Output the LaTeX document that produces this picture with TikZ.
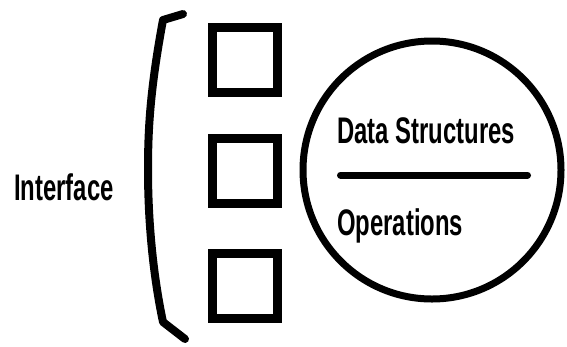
\documentclass[tikz,border=0pt]{standalone}
\usepackage{fontspec}
\setmainfont{Liberation Sans}
\usepackage{tikz}
\usetikzlibrary{positioning}
\newcommand{\squeeze}[1]{\scalebox{0.645}[1]{#1}}

\begin{document}
\begin{tikzpicture}[x=1pt, y=-1pt,
    slot/.style={rectangle, draw, line width=9pt, minimum size=65pt, inner sep=0pt},
    module/.style={circle, draw, line width=7pt, minimum size=258pt, inner sep=0pt},
    lbl/.style={font=\fontsize{37}{40}\selectfont\bfseries, inner sep=0pt, anchor=base west}
]
    \useasboundingbox (0,0) rectangle (567,346);
    \node[slot] (s1) at (245,59.5) {};
    \node[slot] (s2) at (245,171) {};
    \node[slot] (s3) at (245,285.5) {};
    \node[module] (adt) at (432,170) {};
    \node[lbl] (ds) at (337,143) {\squeeze{Data Structures}};
    \node[lbl] (ops) at (337,235) {\squeeze{Operations}};
    \node[lbl] (iface) at (14,200) {\squeeze{Interface}};
    \coordinate (divl) at (340.5,175);
    \coordinate (divr) at (527.5,175);
    \draw[line width=7pt, line cap=round] (divl) -- (divr);
    % brace
    \coordinate (btop) at (183,14);
    \coordinate (bbot) at (185,339);
    \draw[line width=8pt, line cap=round, line join=round] (btop) -- (163,20)
        .. controls (150,90) and (148,130) .. (148,170)
        .. controls (148,215) and (152,270) .. (163,322) -- (bbot);
\end{tikzpicture}
\end{document}
